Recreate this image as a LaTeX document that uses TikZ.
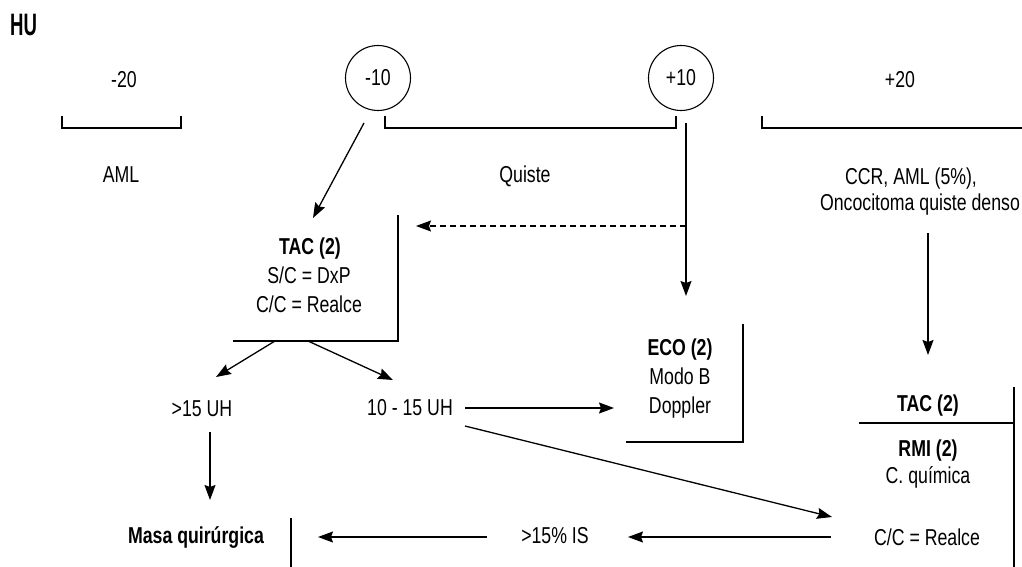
\documentclass[tikz,border=0pt]{standalone}
\usepackage{fontspec}
\setmainfont[FakeStretch=0.77]{Liberation Sans}
\newfontfamily\hufont[FakeStretch=0.6]{Liberation Sans}
\usetikzlibrary{arrows.meta}
\tikzset{
  txt/.style={inner sep=0pt, anchor=base, font=\fontsize{23}{29}\selectfont},
  btxt/.style={inner sep=0pt, anchor=base, font=\fontsize{23}{29}\selectfont\bfseries},
  ln/.style={line width=1.3pt, line cap=butt, line join=miter},
  arr/.style={ln, -{Stealth[length=15pt,width=11pt,inset=2pt]}},
  dasharr/.style={arr, dash pattern=on 6pt off 4pt},
  ring/.style={circle, draw, line width=1.1pt, minimum size=65pt, inner sep=0pt,
               font=\fontsize{23}{29}\selectfont}
}
\begin{document}
\begin{tikzpicture}[x=1pt, y=-1pt]
\useasboundingbox (0,0) rectangle (1022,567);

% title
\node[inner sep=0pt, anchor=base west, font=\hufont\bfseries\fontsize{31}{32}\selectfont] (hu) at (10,36) {HU};

% density scale
\node[txt] (m20) at (124,88) {-20};
\node[ring] (m10) at (378,78) {-10};
\node[ring] (p10) at (681,78) {+10};
\node[txt] (p20) at (900,88) {+20};

\draw[ln] (62,116) -- (62,128) -- (181,128) -- (181,116);
\draw[ln] (385,116) -- (385,128) -- (676,128) -- (676,116);
\draw[ln] (762,116) -- (762,128) -- (1022,128);

\node[txt] (aml) at (121,182) {AML};
\node[txt] (quiste) at (525,182) {Quiste};
\node[txt] (ccr) at (911,184) {CCR, AML (5\%),};
\node[txt] (onco) at (920,210) {Oncocitoma quiste denso};

% TAC block (left)
\node[btxt] (tac1) at (310,254) {TAC (2)};
\node[txt] (tac1b) at (309,283) {S/C = DxP};
\node[txt] (tac1c) at (309,312) {C/C = Realce};
\draw[ln] (398,215) -- (398,341) -- (233,341);

% ECO block
\node[btxt] (eco) at (680,355) {ECO (2)};
\node[txt] (ecob) at (680,384) {Modo B};
\node[txt] (ecoc) at (680,413) {Doppler};
\draw[ln] (743,324) -- (743,442) -- (626,442);

% TAC / RMI block (right)
\node[btxt] (tac2) at (928,411) {TAC (2)};
\node[btxt] (rmi) at (928,456) {RMI (2)};
\node[txt] (cq) at (928,483) {C. química};
\node[txt] (cc2) at (927,545) {C/C = Realce};
\draw[ln] (1014,387) -- (1014,567);
\draw[ln] (859,423) -- (1013,423);

% results
\node[txt] (gt15) at (202,416) {>15 UH};
\node[txt] (r1015) at (410,415) {10 - 15 UH};
\node[txt] (is) at (555,543) {>15\% IS};
\node[btxt] (masa) at (196,543) {Masa quirúrgica};
\draw[ln] (291,518) -- (291,567);

% connector end points
\coordinate (a1s) at (364,123);
\coordinate (a1e) at (313,218);
\coordinate (v10s) at (686,123);
\coordinate (v10m) at (686,226);
\coordinate (v10e) at (686,296);
\coordinate (dse) at (416,226);
\coordinate (v20s) at (928,233);
\coordinate (v20e) at (928,355);
\coordinate (b1s) at (275,341);
\coordinate (b1e) at (216,377);
\coordinate (b2s) at (308,341);
\coordinate (b2e) at (393,380);
\coordinate (d1s) at (210,432);
\coordinate (d1e) at (210,500);
\coordinate (h1s) at (465,408);
\coordinate (h1e) at (614,408);
\coordinate (g1s) at (465,426);
\coordinate (g1e) at (832,517);
\coordinate (h2s) at (831,537);
\coordinate (h2e) at (628,537);
\coordinate (h3s) at (487,537);
\coordinate (h3e) at (318,537);

% connectors
\draw[arr] (a1s) -- (a1e);
\draw[arr] (v10s) -- (v10e);
\draw[dasharr] (v10m) -- (dse);
\draw[arr] (v20s) -- (v20e);
\draw[arr] (b1s) -- (b1e);
\draw[arr] (b2s) -- (b2e);
\draw[arr] (d1s) -- (d1e);
\draw[arr] (h1s) -- (h1e);
\draw[arr] (g1s) -- (g1e);
\draw[arr] (h2s) -- (h2e);
\draw[arr] (h3s) -- (h3e);
\end{tikzpicture}
\end{document}
